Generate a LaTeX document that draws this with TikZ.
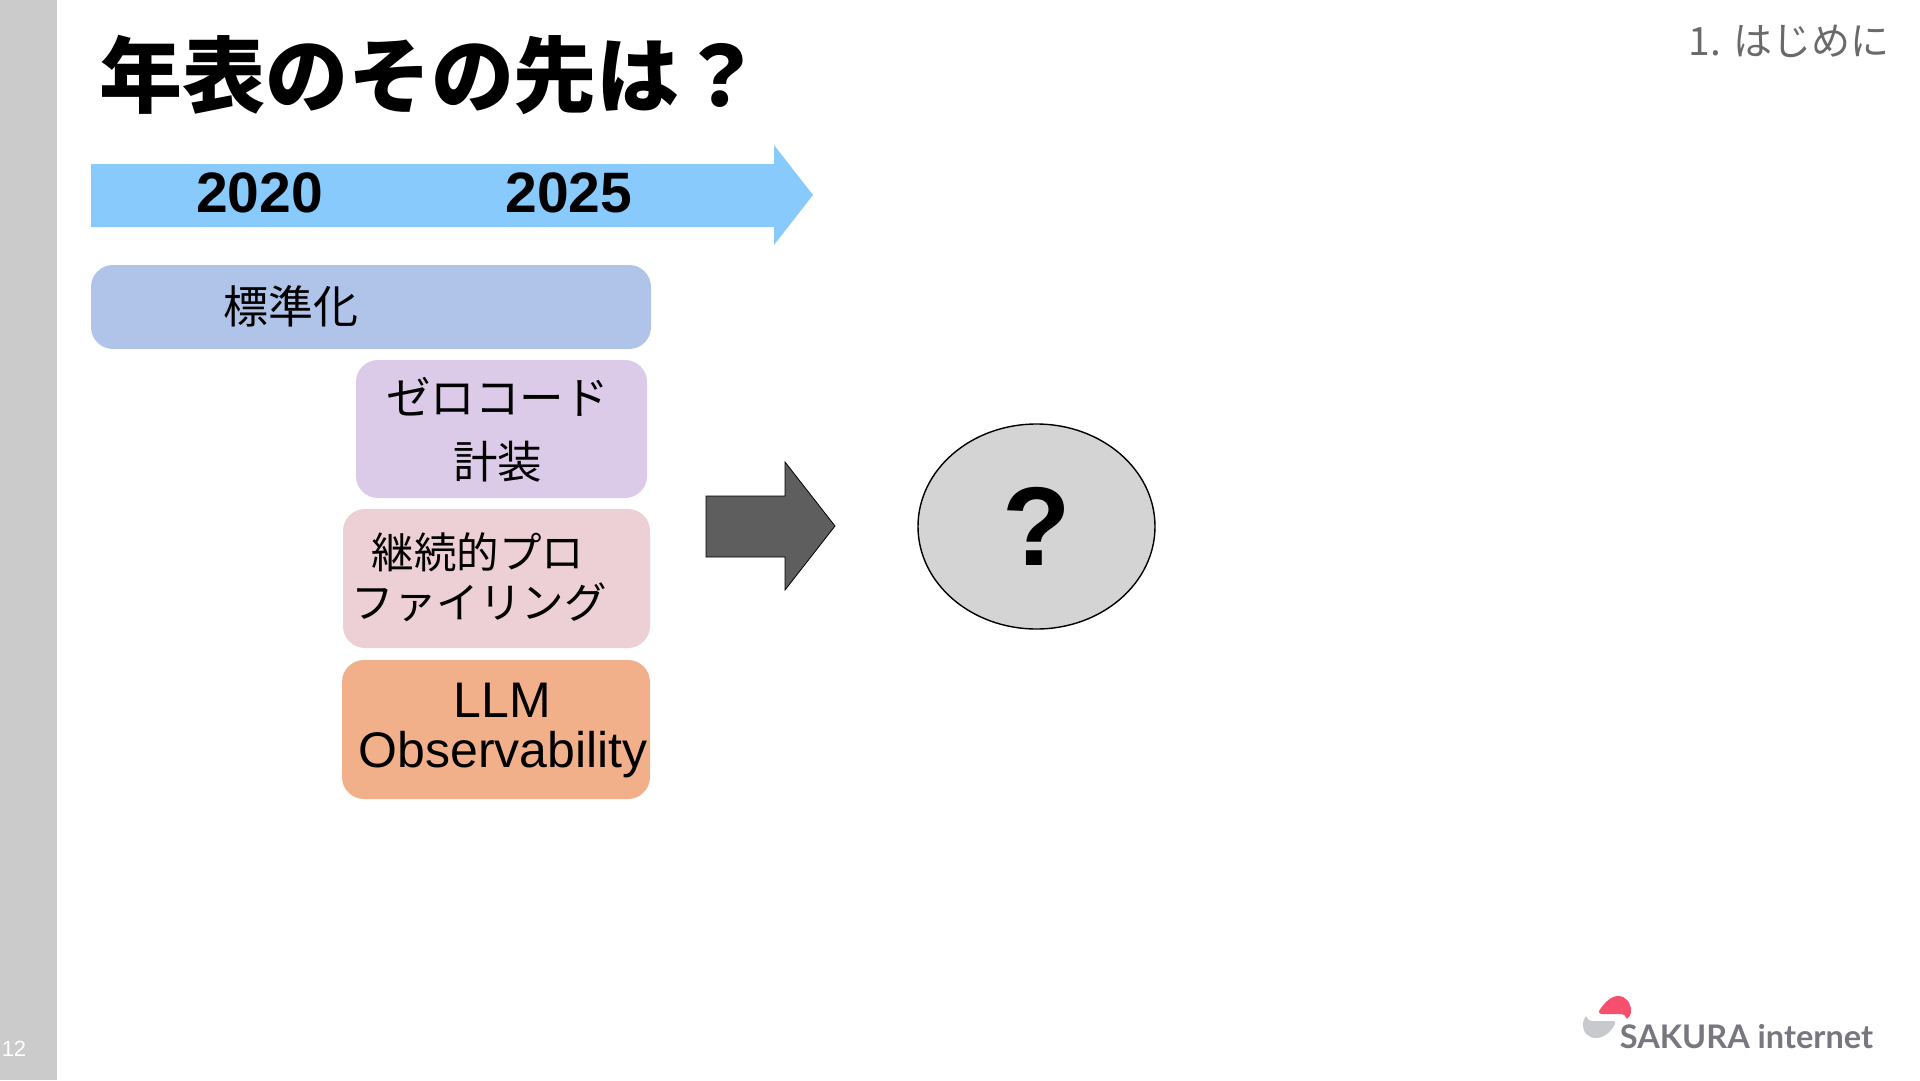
\documentclass[tikz,border=0pt]{standalone}
\usepackage{fontspec}
\usetikzlibrary{shapes.geometric}
\setmainfont{Liberation Sans}
\newfontfamily\cjk{Noto Sans CJK JP}
\newfontfamily\lat{Lato}
\newcommand{\fs}[1]{\fontsize{#1}{#1}\selectfont}
\definecolor{barg}{HTML}{CBCBCB}
\definecolor{tl}{HTML}{89CAFC}
\definecolor{ba}{HTML}{B0C3E9}
\definecolor{bb}{HTML}{DCCAE9}
\definecolor{bc}{HTML}{EDCFD6}
\definecolor{bd}{HTML}{F1B08A}
\definecolor{arr}{HTML}{5E5E5E}
\definecolor{ell}{HTML}{D4D4D4}
\definecolor{logor}{HTML}{F6506E}
\definecolor{logog}{HTML}{C8C9CC}
\definecolor{logot}{HTML}{77777F}
\definecolor{chap}{HTML}{6A6A6A}
\tikzset{x=1pt,y=-1pt,
  lbl/.style={inner sep=0pt,outer sep=0pt,anchor=center,text=black},
  jp/.style={lbl,font=\cjk\fs{#1}},
  roundbox/.style={rounded corners=22pt,draw=none}}
\begin{document}
\begin{tikzpicture}
\useasboundingbox (0,0) rectangle (1920,1080);
\fill[white] (0,0) rectangle (1920,1080);
\fill[barg] (0,0) rectangle (57,1080);
\node[lbl,text=white,font=\fs{22}] (page) at (14,1048.5) {12};
\node[lbl,font=\cjk\bfseries\fs{83}] (title) at (431,75) {年表のその先は？};
\node[lbl,text=chap,font=\cjk\fs{39}] (chapter) at (1789,41.5) {1. はじめに};
% timeline arrow
\fill[tl] (91,164) -- (774,164) -- (774,145) -- (813,195) -- (774,245) -- (774,227) -- (91,227) -- cycle;
\node[lbl,font=\bfseries\fs{57}] (y2020) at (259.5,193) {2020};
\node[lbl,font=\bfseries\fs{57}] (y2025) at (569,193) {2025};
% boxes
\fill[ba,roundbox] (91,265) rectangle (651,349);
\node[jp=45] (std) at (291,306) {標準化};
\fill[bb,roundbox] (356,360) rectangle (647,498);
\node[jp=44.5] (zero) at (497.5,397) {ゼロコード};
\node[jp=44.5] (inst) at (497.5,462) {計装};
\fill[bc,roundbox] (343,509) rectangle (650,648);
\node[jp=42.5] (cont) at (478,552) {継続的プロ};
\node[jp=42.5] (prof) at (479,602) {ファイリング};
\fill[bd,roundbox] (342,660) rectangle (650,799);
\node[lbl,font=\fs{50}] (llm) at (502.5,700) {LLM};
\node[lbl,font=\fs{50}] (obs) at (503,755) {Observability};
% big arrow
\draw[fill=arr,draw=black,line width=0.8pt] (706,496) -- (785,496) -- (785,462) -- (835,526) -- (785,590) -- (785,557) -- (706,557) -- cycle;
% ellipse
\node[ellipse,draw=black,fill=ell,line width=1.4pt,minimum width=237pt,minimum height=205pt,inner sep=0pt] (q) at (1036.5,526.5) {};
\node[lbl,font=\bfseries\fs{112}] (qm) at (1037,526) {?};
% logo
\fill[logor] (1599,1011) .. controls (1604,1003) and (1611,996) .. (1618,996) .. controls (1626,996) and (1631,1003) .. (1631,1011) .. controls (1631,1015) and (1629,1017) .. (1627,1019) .. controls (1626,1016) and (1624,1014) .. (1620,1014) -- (1603,1014) .. controls (1600,1014) and (1598,1013) .. (1599,1011) -- cycle;
\fill[logog] (1586,1016) .. controls (1587,1019) and (1589,1021) .. (1593,1021) -- (1612,1021) .. controls (1615,1021) and (1616,1022) .. (1615,1024) .. controls (1611,1032) and (1604,1038) .. (1596,1038) .. controls (1588,1038) and (1583,1032) .. (1583,1026) .. controls (1583,1021) and (1584,1018) .. (1586,1016) -- cycle;
\node[lbl,text=logot,font=\lat\bfseries\fs{32.5}] (sakura) at (1746.5,1037) {SAKURA internet};
\end{tikzpicture}
\end{document}
